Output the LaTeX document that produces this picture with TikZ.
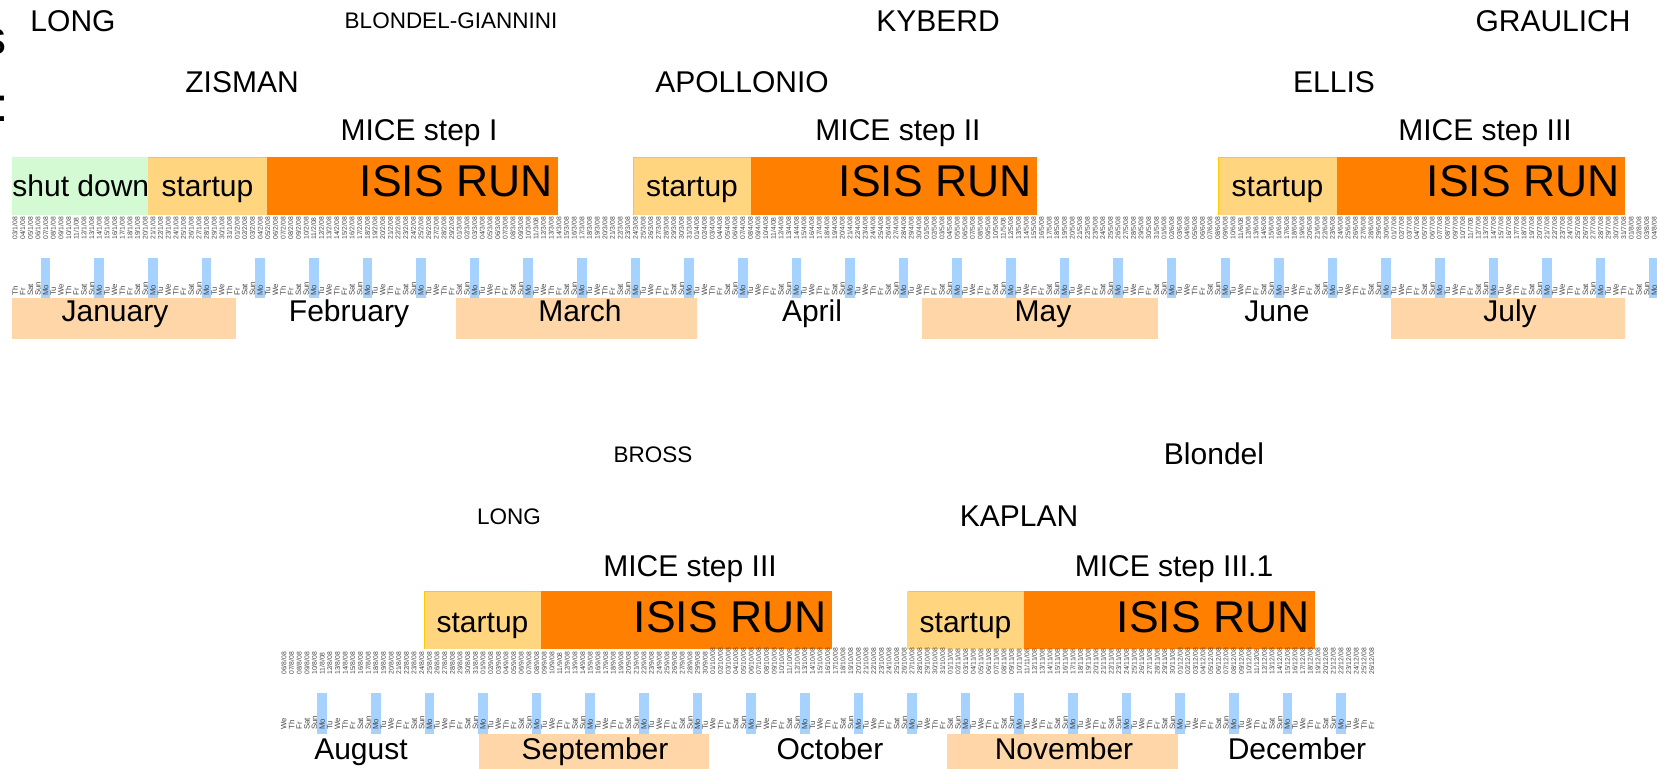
\documentclass[tikz,border=0pt]{standalone}
\usepackage{fontspec}
\setmainfont{Liberation Sans}
\definecolor{shutgreen}{RGB}{212,250,212}
\definecolor{startorange}{RGB}{255,213,128}
\definecolor{runorange}{RGB}{255,127,0}
\definecolor{monthpeach}{RGB}{255,214,168}
\definecolor{sunblue}{RGB}{166,210,255}
\definecolor{startgold}{RGB}{255,204,0}
\definecolor{labelgray}{RGB}{70,70,70}
\begin{document}
\begin{tikzpicture}[x=0.5pt,y=-0.5pt,
  lbl/.style={anchor=base,inner sep=0pt,font=\fontsize{15}{18}\selectfont},
  lblsmall/.style={anchor=base,inner sep=0pt,font=\fontsize{11.25}{13}\selectfont},
  runlbl/.style={anchor=base east,inner sep=0pt,font=\fontsize{22.25}{26}\selectfont},
  frag/.style={anchor=base east,inner sep=0pt,font=\fontsize{24}{28}\selectfont},
  datelbl/.style={rotate=90,anchor=west,inner sep=0pt,text=labelgray,font=\fontsize{3.4}{4}\selectfont},
  daylbl/.style={rotate=90,anchor=west,inner sep=0pt,text=labelgray,font=\fontsize{3.9}{4.5}\selectfont},
  sunbar/.style={fill=sunblue,draw=none},
  monthbox/.style={fill=monthpeach,draw=none},
  goldedge/.style={draw=startgold,line width=0.6pt}
]
\useasboundingbox (0,0) rectangle (1657,769);
\clip (0,0) rectangle (1657,769);

% cut-off title fragments at the left edge
\node[frag] (fragS) at (6.5,55) {s};
\node[frag] (fragC) at (9.3,122) {:};

% ===================== TOP ROW =====================
\node[lbl] (long1) at (73,32) {LONG};
\node[lblsmall] (blondelg) at (451,29) {BLONDEL-GIANNINI};
\node[lbl] (kyberd) at (938,32) {KYBERD};
\node[lbl] (graulich) at (1553,32) {GRAULICH};
\node[lbl] (zisman) at (242,93) {ZISMAN};
\node[lbl] (apollonio) at (742,93) {APOLLONIO};
\node[lbl] (ellis) at (1334,93) {ELLIS};
\node[lbl] (step1) at (419,141) {MICE step I};
\node[lbl] (step2) at (898,141) {MICE step II};
\node[lbl] (step3) at (1485,141) {MICE step III};

% run bars
\fill[shutgreen] (12,157) rectangle (148,215);
\fill[startorange] (148,157) rectangle (267,215);
\draw[goldedge] (148,157.3) -- (267,157.3);
\fill[runorange] (267,157) rectangle (558,215);
\fill[startorange] (633,157) rectangle (751,215);
\draw[goldedge] (633.3,215) -- (633.3,157.3) -- (751,157.3);
\fill[runorange] (751,157) rectangle (1037,215);
\fill[startorange] (1218,157) rectangle (1337,215);
\draw[goldedge] (1218.3,215) -- (1218.3,157.3) -- (1337,157.3);
\fill[runorange] (1337,157) rectangle (1625,215);

\node[anchor=base west,inner sep=0pt,font=\fontsize{15}{18}\selectfont] (shut) at (12,197) {shut down};
\node[lbl] (su1) at (207.5,197) {startup};
\node[runlbl] (run1) at (553,197) {ISIS RUN};
\node[lbl] (su2) at (692,197) {startup};
\node[runlbl] (run2) at (1032,197) {ISIS RUN};
\node[lbl] (su3) at (1277.5,197) {startup};
\node[runlbl] (run3) at (1620,197) {ISIS RUN};

% month boxes
\fill[monthbox] (12,298) rectangle (236,339);
\fill[monthbox] (456,298) rectangle (697,339);
\fill[monthbox] (922,298) rectangle (1158,339);
\fill[monthbox] (1391,298) rectangle (1625,339);

% Monday bars (top)
\foreach \k in {0,...,30}{
  \pgfmathsetmacro{\xx}{15+(4+7*\k)*7.66}
  \fill[sunbar] (\xx-4.8,258) rectangle (\xx+4.8,298);
}

% dates and weekdays (top): day index 0 = Thu 03/1/08
\foreach \m/\off/\first/\last in {1/-3/3/31, 2/28/1/29, 3/57/1/31, 4/88/1/30, 5/118/1/31, 6/149/1/30, 7/179/1/31, 8/210/1/4}{
  \foreach \dd in {\first,...,\last}{
    \pgfmathtruncatemacro{\di}{\off+\dd}
    \pgfmathsetmacro{\xx}{15+\di*7.66}
    \pgfmathtruncatemacro{\wkd}{mod(\di+3,7)}
    \node[datelbl] (td\m-\dd) at (\xx,240) {\ifnum\dd<10 0\fi\dd/\m/08};
    \node[daylbl] (tw\m-\dd) at (\xx,296) {\ifcase\wkd Mo\or Tu\or We\or Th\or Fr\or Sat\or Sun\fi};
  }
}

% month labels (top)
\node[lbl] (jan) at (115,322) {January};
\node[lbl] (feb) at (349,322) {February};
\node[lbl] (mar) at (580,322) {March};
\node[lbl] (apr) at (812,322) {April};
\node[lbl] (may) at (1043,322) {May};
\node[lbl] (jun) at (1277,322) {June};
\node[lbl] (jul) at (1510,322) {July};

% ===================== BOTTOM ROW =====================
\node[lblsmall] (bross) at (653,462) {BROSS};
\node[lbl] (blondel) at (1214,465) {Blondel};
\node[lblsmall] (long2) at (509,524) {LONG};
\node[lbl] (kaplan) at (1019,526) {KAPLAN};
\node[lbl] (step3b) at (690,576) {MICE step III};
\node[lbl] (step31) at (1174,576) {MICE step III.1};

\fill[startorange] (424,591) rectangle (541,649);
\draw[goldedge] (424.3,649) -- (424.3,591.3) -- (541,591.3);
\fill[runorange] (541,591) rectangle (832,649);
\fill[startorange] (907,591) rectangle (1024,649);
\draw[goldedge] (909,591.3) -- (1024,591.3);
\fill[runorange] (1024,591) rectangle (1315,649);

\node[lbl] (su4) at (482.5,632) {startup};
\node[runlbl] (run4) at (827,632) {ISIS RUN};
\node[lbl] (su5) at (965.5,632) {startup};
\node[runlbl] (run5) at (1310,632) {ISIS RUN};

\fill[monthbox] (479,734) rectangle (709,769);
\fill[monthbox] (947,734) rectangle (1178,769);

% Monday bars (bottom): index 0 = Mon 01/9/08
\foreach \k in {0,...,19}{
  \pgfmathsetmacro{\xx}{483+(-21+7*\k)*7.66}
  \fill[sunbar] (\xx-4.8,693) rectangle (\xx+4.8,734);
}

\foreach \m/\off/\first/\last in {8/-32/6/31, 9/-1/1/30, 10/29/1/31, 11/60/1/30, 12/90/1/26}{
  \foreach \dd in {\first,...,\last}{
    \pgfmathtruncatemacro{\di}{\off+\dd}
    \pgfmathsetmacro{\xx}{483+\di*7.66}
    \pgfmathtruncatemacro{\wkd}{mod(\di+35,7)}
    \node[datelbl] (bd\m-\dd) at (\xx,675) {\ifnum\dd<10 0\fi\dd/\m/08};
    \node[daylbl] (bw\m-\dd) at (\xx,730) {\ifcase\wkd Mo\or Tu\or We\or Th\or Fr\or Sat\or Sun\fi};
  }
}

\node[lbl] (aug) at (361,759) {August};
\node[lbl] (sep) at (595,759) {September};
\node[lbl] (oct) at (830,759) {October};
\node[lbl] (nov) at (1064,759) {November};
\node[lbl] (dec) at (1297,759) {December};
\end{tikzpicture}
\end{document}
